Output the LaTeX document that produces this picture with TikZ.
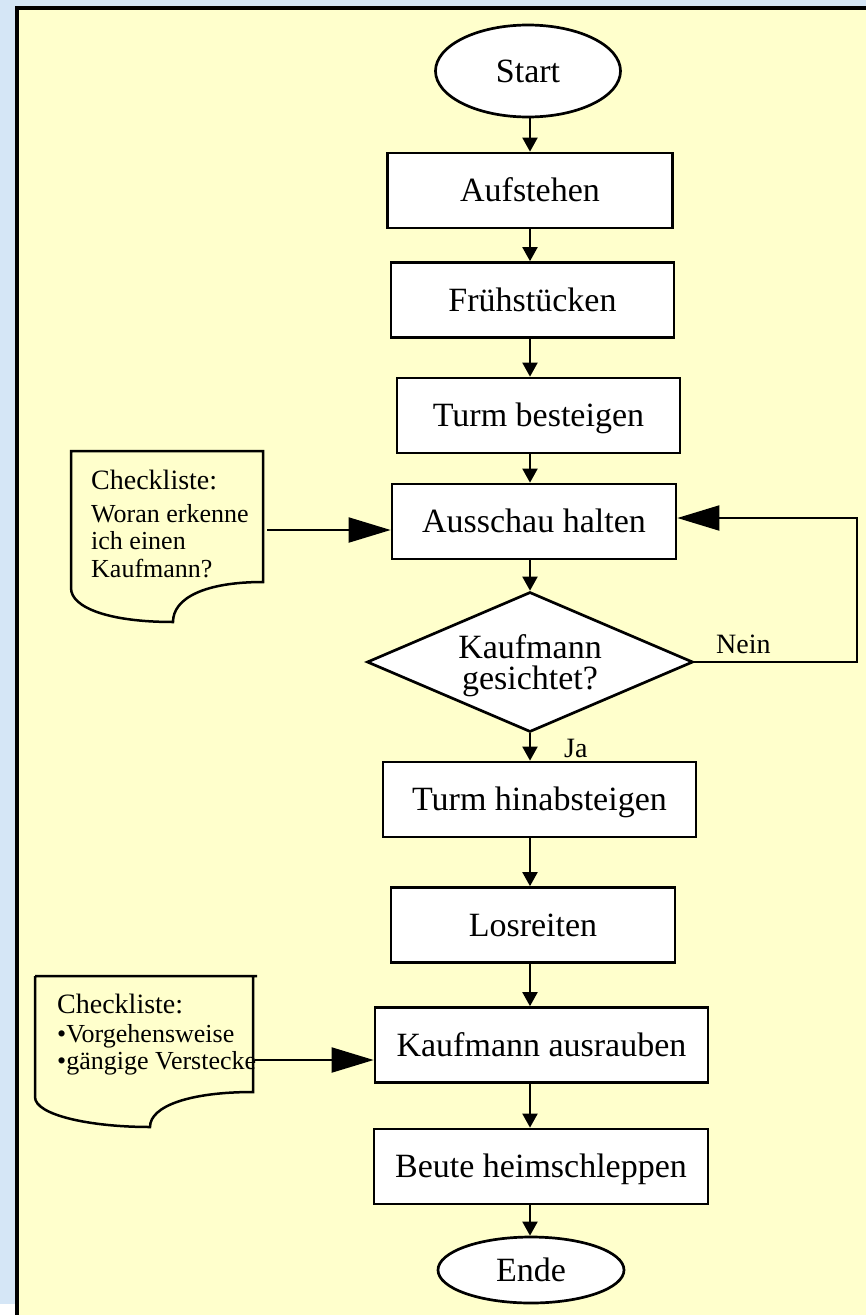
\documentclass[tikz,border=0pt]{standalone}
\usepackage{fontspec}
\setmainfont{Liberation Serif}
\usetikzlibrary{shapes.geometric,arrows.meta}
\definecolor{paneyellow}{RGB}{255,255,204}
\definecolor{backblue}{RGB}{213,230,246}

\begin{document}
\begin{tikzpicture}[x=1pt,y=-1pt,
	box/.style={draw,line width=2.7pt,fill=white,minimum height=75pt,inner sep=0pt,text height=22pt,text depth=0pt,font=\fontsize{34}{31}\selectfont},
	terminal/.style={box,ellipse},
	decision/.style={draw,line width=2.7pt,fill=white,diamond,shape aspect=2.33,inner sep=0pt,align=center,text depth=0pt,font=\fontsize{34}{31}\selectfont},
	arr/.style={line width=2pt,-{Triangle[length=14pt,width=15pt]}},
	bigarr/.style={line width=2pt,-{Triangle[length=42pt,width=25pt]}},
	docline/.style={line width=2.5pt},
	doctext/.style={anchor=north west,inner sep=0pt,align=left,font=\fontsize{26}{27.5}\selectfont},
	lbl/.style={anchor=base west,inner sep=0pt,font=\fontsize{28}{30}\selectfont}
	]
			\useasboundingbox (0,0) rectangle (866,1315);
			\fill[backblue] (0,0) rectangle (866,1304);
			\fill[white] (0,1304) rectangle (17,1315);
			\filldraw[fill=paneyellow,draw=black,line width=4pt] (17,8) rectangle (872,1322);
			\coordinate (axis) at (530,0);

			% Ablauf
			\node[terminal,minimum width=185pt,minimum height=92pt] (start) at (528,71) {Start};
			\node[box,minimum width=285pt] (auf) at (530,190.5) {Aufstehen};
			\node[box,minimum width=283pt] (fru) at (532.5,300) {Frühstücken};
			\node[box,minimum width=283pt] (turm) at (538.5,415.5) {Turm besteigen};
			\node[box,minimum width=284pt] (aus) at (534,521.5) {Ausschau halten};
			\node[decision,minimum width=326pt,minimum height=140pt] (dia) at (530,662) {Kaufmann\\gesichtet?};
			\node[box,minimum width=313pt] (hinab) at (539.5,799.5) {Turm hinabsteigen};
			\node[box,minimum width=284pt] (los) at (533,925) {Losreiten};
			\node[box,minimum width=333pt] (raub) at (541.5,1045) {Kaufmann ausrauben};
			\node[box,minimum width=334pt] (beute) at (541,1166.5) {Beute heimschleppen};
			\node[terminal,minimum width=186pt,minimum height=66pt] (ende) at (531,1270) {Ende};

			\draw[arr] (start.south -| axis) -- (auf.north -| axis);
			\draw[arr] (auf.south -| axis) -- (fru.north -| axis);
			\draw[arr] (fru.south -| axis) -- (turm.north -| axis);
			\draw[arr] (turm.south -| axis) -- (aus.north -| axis);
			\draw[arr] (aus.south -| axis) -- (dia.north);
			\draw[arr] (dia.south) -- (hinab.north -| axis);
			\draw[arr] (hinab.south -| axis) -- (los.north -| axis);
			\draw[arr] (los.south -| axis) -- (raub.north -| axis);
			\draw[arr] (raub.south -| axis) -- (beute.north -| axis);
			\draw[arr] (beute.south -| axis) -- (ende.north -| axis);

			\node[lbl] (ja) at (564,757) {Ja};
			\node[lbl] (nein) at (716,653) {Nein};
			\coordinate (loop) at (857,518);
			\draw[bigarr] (dia.east) -| (loop) -- (aus.east |- loop);

			% Checklisten
			\draw[docline] (71,451) -- (263,451) -- (263,582) .. controls (205,582) and (173,598) .. (173,622) .. controls (110,622) and (71,608) .. (71,588) -- cycle;
			\node[doctext] (chk1) at (91,469.5) {{\fontsize{28}{28}\selectfont Checkliste:}\\[5.5pt]Woran erkenne\\ich einen\\Kaufmann?};
			\coordinate (chk1out) at (267,530);
			\draw[bigarr] (chk1out) -- (aus.west |- chk1out);

			\draw[docline] (35,976) -- (257,976) (253,976) -- (253,1092) .. controls (190,1092) and (150,1106) .. (150,1127) .. controls (90,1127) and (35,1115) .. (35,1097) -- (35,976);
			\node[doctext] (chk2) at (57,993.5) {{\fontsize{28}{28}\selectfont Checkliste:}\\[1.5pt]•Vorgehensweise\\•gängige Verstecke};
			\coordinate (chk2out) at (255,1060);
			\draw[bigarr] (chk2out) -- (raub.west |- chk2out);
\end{tikzpicture}
\end{document}
